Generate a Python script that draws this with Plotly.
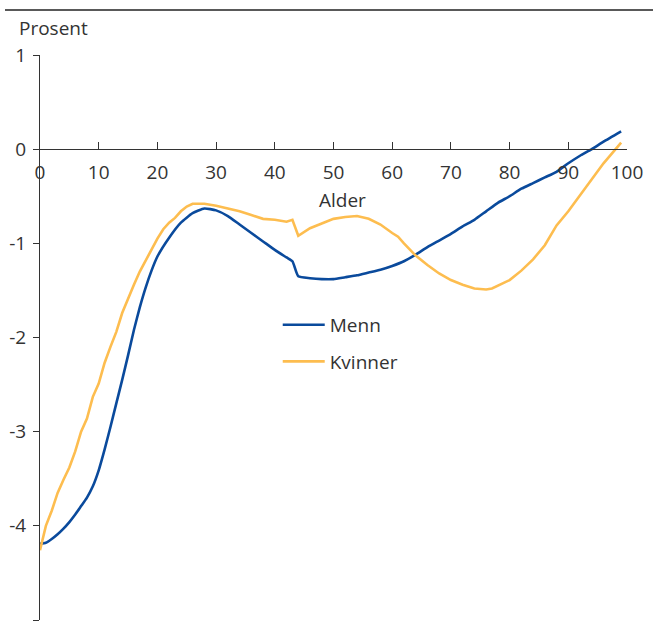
import plotly.graph_objects as go

# Age (years) and annual change in percent for men
menn_alder = [0, 1, 2, 3, 4, 5, 6, 7, 8, 9, 10, 11, 12, 13, 14, 15, 16, 17, 18, 19,
              20, 22, 24, 26, 28, 30, 32, 34, 36, 38, 40, 42, 43, 44, 46, 48, 50,
              52, 54, 56, 58, 60, 62, 64, 66, 68, 70, 72, 74, 76, 78, 80, 82, 84,
              86, 88, 90, 92, 94, 96, 99]
menn = [-4.19, -4.18, -4.14, -4.09, -4.03, -3.96, -3.88, -3.79, -3.70, -3.58,
        -3.41, -3.19, -2.95, -2.70, -2.45, -2.19, -1.92, -1.68, -1.47, -1.29,
        -1.14, -0.94, -0.78, -0.68, -0.63, -0.65, -0.71, -0.80, -0.89, -0.98,
        -1.07, -1.15, -1.19, -1.35, -1.37, -1.38, -1.38, -1.36, -1.34, -1.31,
        -1.28, -1.24, -1.19, -1.12, -1.04, -0.97, -0.90, -0.82, -0.75, -0.66,
        -0.57, -0.50, -0.42, -0.36, -0.30, -0.24, -0.15, -0.07, 0.00, 0.08, 0.19]

# Age (years) and annual change in percent for women
kvinner_alder = [0, 1, 2, 3, 4, 5, 6, 7, 8, 9, 10, 11, 12, 13, 14, 15, 16, 17, 18,
                 19, 20, 21, 22, 23, 24, 25, 26, 28, 30, 32, 34, 36, 38, 40, 42,
                 43, 44, 46, 48, 50, 52, 54, 56, 58, 60, 61, 62, 64, 66, 68, 70,
                 72, 74, 76, 77, 78, 80, 82, 84, 86, 87, 88, 90, 92, 94, 96, 99]
kvinner = [-4.26, -4.00, -3.84, -3.65, -3.51, -3.38, -3.21, -3.00, -2.86, -2.63,
           -2.49, -2.27, -2.10, -1.94, -1.74, -1.58, -1.44, -1.30, -1.18, -1.06,
           -0.95, -0.85, -0.78, -0.73, -0.66, -0.61, -0.58, -0.58, -0.60, -0.63,
           -0.66, -0.70, -0.74, -0.75, -0.77, -0.75, -0.92, -0.84, -0.79, -0.74,
           -0.72, -0.71, -0.74, -0.80, -0.89, -0.93, -1.00, -1.13, -1.23, -1.32,
           -1.39, -1.44, -1.48, -1.49, -1.48, -1.45, -1.39, -1.29, -1.17, -1.02,
           -0.92, -0.81, -0.66, -0.49, -0.33, -0.15, 0.07]

x_ticks = [0, 10, 20, 30, 40, 50, 60, 70, 80, 90, 100]
y_ticks = [1, 0, -1, -2, -3, -4, -5]
y_tick_labels = ["1", "0", "-1", "-2", "-3", "-4", "-5"]

BLUE = "#0a4a9c"
ORANGE = "#fdbd4f"
INK = "#333333"
FONT = "Open Sans"
SIZE = 19

fig = go.Figure()
fig.add_trace(go.Scatter(x=menn_alder, y=menn, mode="lines", name="Menn",
                         legendgroup="m",
                         line=dict(color=BLUE, width=2.6, shape="spline",
                                   smoothing=0.5)))
fig.add_trace(go.Scatter(x=kvinner_alder, y=kvinner, mode="lines", name="Kvinner",
                         legendgroup="k",
                         line=dict(color=ORANGE, width=2.6)))

Y_MIN, Y_MAX = -5, 1

fig.update_layout(
    width=653, height=630,
    margin=dict(l=40, r=26, t=55, b=10),
    paper_bgcolor="white", plot_bgcolor="white",
    font=dict(family=FONT, size=SIZE, color=INK),
    showlegend=True,
    legend=dict(x=0.405, y=0.556, xanchor="left", yanchor="top",
                traceorder="grouped", tracegroupgap=9,
                bgcolor="rgba(0,0,0,0)", itemwidth=42,
                font=dict(family=FONT, size=SIZE, color=INK)),
    xaxis=dict(range=[0, 100], tickvals=x_ticks, ticks="inside", ticklen=7,
               tickcolor=INK, showline=True, linecolor=INK, linewidth=1,
               showgrid=False, zeroline=False, anchor="free",
               position=(0 - Y_MIN) / (Y_MAX - Y_MIN),
               ticklabelstandoff=6,
               tickfont=dict(family=FONT, size=SIZE, color=INK)),
    yaxis=dict(range=[Y_MIN, Y_MAX], tickvals=y_ticks, ticktext=y_tick_labels,
               ticks="outside", ticklen=6,
               tickcolor=INK, showline=True, linecolor=INK, linewidth=1,
               showgrid=False, zeroline=False, ticklabelstandoff=3,
               tickfont=dict(family=FONT, size=SIZE, color=INK)),
)

# Axis labels
fig.add_annotation(text="Alder", x=51.5, y=-0.54, xref="x", yref="y",
                   showarrow=False, font=dict(family=FONT, size=SIZE, color=INK))
fig.add_annotation(text="Prosent", x=-23 / 587, y=1 + 27 / 565,
                   xref="paper", yref="paper",
                   xanchor="left", yanchor="middle", showarrow=False,
                   font=dict(family=FONT, size=SIZE, color=INK))

# Rule across the top of the figure
fig.add_shape(type="line", xref="paper", yref="paper",
              x0=-35 / 587, x1=1 + 26 / 587, y0=1 + 45 / 565, y1=1 + 45 / 565,
              line=dict(color="#222222", width=1.5))

fig.write_html("out.html")
